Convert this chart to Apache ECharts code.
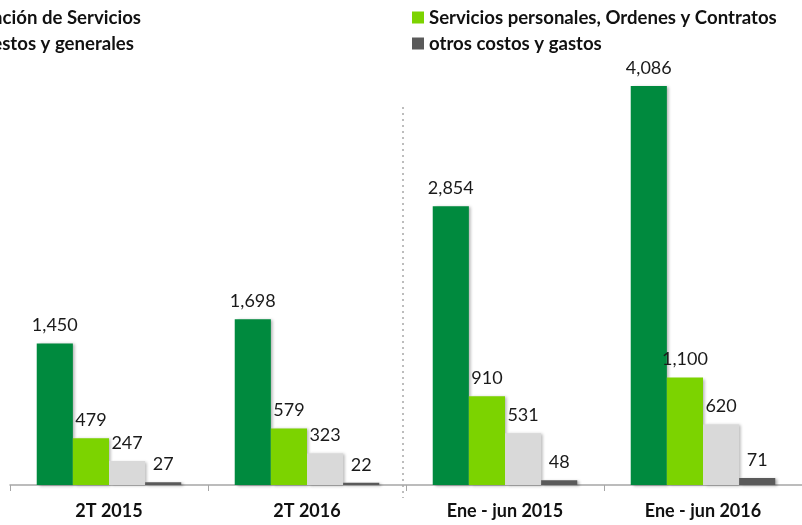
<!DOCTYPE html>
<html>
<head>
<meta charset="utf-8">
<script src="https://cdn.jsdelivr.net/npm/echarts@6/dist/echarts.min.js"></script>
<style>
  html, body { margin: 0; padding: 0; background: #fff; }
  #chart { width: 802px; height: 525px; }
</style>
</head>
<body>
<div id="chart"></div>
<script>
const categories = ['2T 2015', '2T 2016', 'Ene - jun 2015', 'Ene - jun 2016'];
const seriesNames = [
  'Costos de Operación de Servicios',
  'Servicios personales, Ordenes y Contratos',
  'Costos de impuestos y generales',
  'otros costos y gastos'
];
const operacion = [1450, 1698, 2854, 4086];
const personales = [479, 579, 910, 1100];
const impuestos = [247, 323, 531, 620];
const otros = [27, 22, 48, 71];

const colors = ['#008A3E', '#7CD300', '#D9D9D9', '#5A5A5A'];
const FONT = 'Lato';

const chart = echarts.init(document.getElementById('chart'));

const makeSeries = (name, data, color) => ({
  name: name,
  type: 'bar',
  data: data,
  barGap: '0%',
  barCategoryGap: '27%',
  itemStyle: {
    color: color,
    shadowColor: 'rgba(0,0,0,0.3)',
    shadowBlur: 3,
    shadowOffsetX: 2,
    shadowOffsetY: 1
  },
  label: {
    show: true,
    position: 'top',
    distance: 9,
    color: '#1a1a1a',
    fontFamily: FONT,
    fontSize: 18,
    formatter: p => p.value.toLocaleString('en-US')
  }
});

const legendText = { fontFamily: FONT, fontWeight: 'bold', fontSize: 18.6, lineHeight: 18, color: '#111' };

const option = {
  animation: false,
  legend: [
    {
      data: [seriesNames[0], seriesNames[2]],
      orient: 'vertical',
      right: 656,
      top: 3,
      itemWidth: 12,
      itemHeight: 12,
      itemGap: 7,
      icon: 'rect',
      textStyle: legendText
    },
    {
      data: [seriesNames[1], seriesNames[3]],
      orient: 'vertical',
      left: 407,
      top: 3,
      itemWidth: 12,
      itemHeight: 12,
      itemGap: 7,
      icon: 'rect',
      textStyle: legendText
    }
  ],
  grid: { left: 10, right: -4, top: 45.6, bottom: 40 },
  xAxis: {
    type: 'category',
    data: categories,
    axisLine: { lineStyle: { color: '#A6A6A6', width: 1.5 } },
    axisTick: { show: true, length: 6, lineStyle: { color: '#A6A6A6' } },
    axisLabel: {
      fontFamily: FONT,
      fontWeight: 'bold',
      fontSize: 18,
      color: '#111',
      margin: 17
    }
  },
  yAxis: {
    type: 'value',
    min: 0,
    max: 4500,
    show: false,
    splitLine: { show: false }
  },
  graphic: [
    {
      type: 'line',
      shape: { x1: 403, y1: 107, x2: 403, y2: 498 },
      style: { stroke: '#BDBDBD', lineWidth: 2, lineDash: [2, 4] }
    }
  ],
  series: [
    makeSeries(seriesNames[0], operacion, colors[0]),
    makeSeries(seriesNames[1], personales, colors[1]),
    makeSeries(seriesNames[2], impuestos, colors[2]),
    makeSeries(seriesNames[3], otros, colors[3])
  ]
};

chart.setOption(option);
</script>
</body>
</html>
